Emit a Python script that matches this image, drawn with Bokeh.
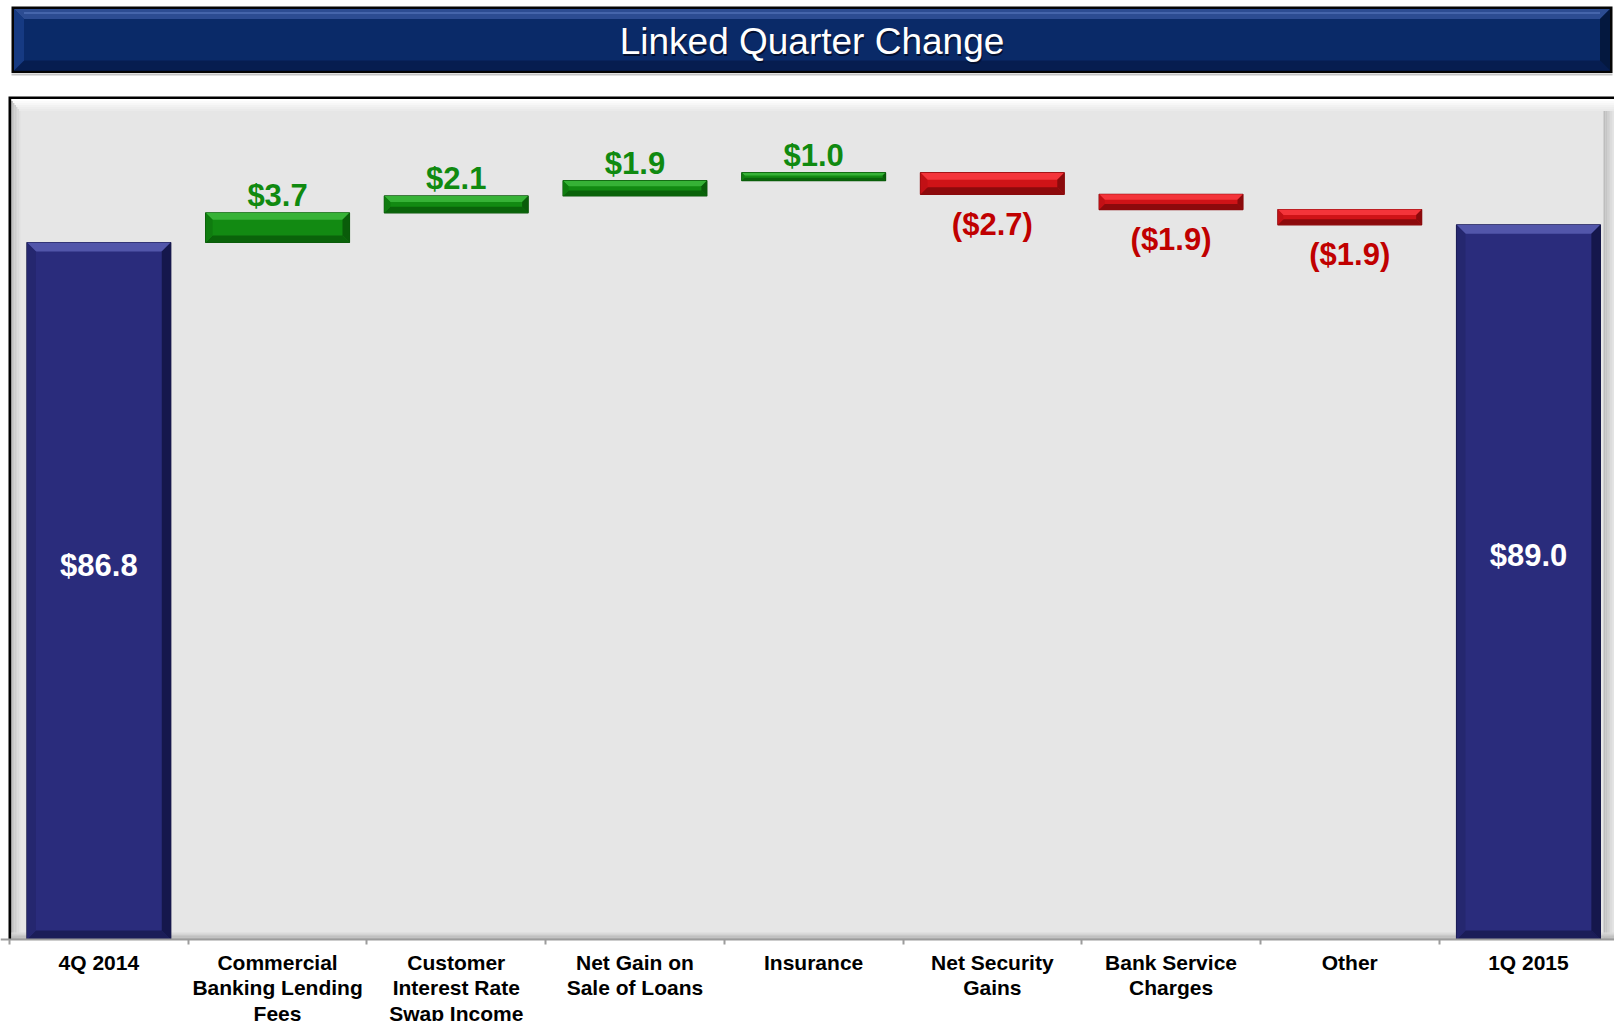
from bokeh.plotting import figure
from bokeh.models import Range1d, FixedTicker, ColumnDataSource
from bokeh.core.properties import value
from bokeh.embed import file_html
from bokeh.resources import INLINE

# ---------------- data ----------------
categories = [
    "4Q 2014",
    "Commercial\nBanking Lending\nFees",
    "Customer\nInterest Rate\nSwap Income",
    "Net Gain on\nSale of Loans",
    "Insurance",
    "Net Security\nGains",
    "Bank Service\nCharges",
    "Other",
    "1Q 2015",
]
amounts = [86.8, 3.7, 2.1, 1.9, 1.0, -2.7, -1.9, -1.9, 89.0]
kinds = ["total", "change", "change", "change", "change", "change", "change", "change", "total"]
value_labels = ["$86.8", "$3.7", "$2.1", "$1.9", "$1.0", "($2.7)", "($1.9)", "($1.9)", "$89.0"]
title_text = "Linked Quarter Change"

# ---------------- layout constants ----------------
W, H = 1614, 1021
PAGE = 0          # the page template puts the figure at the window's corner
PX_X = 178.7      # px per category
PX_Y = 8.03       # px per $ unit
X0_PAGE = 9.0     # page x of the first category boundary
Y0_PAGE = 939.0   # page y of value 0
BAR_W = 0.805
FONT = "Liberation Sans"


def page_x(px):
    return (px - X0_PAGE) / PX_X


def page_y(py):
    return (Y0_PAGE - py) / PX_Y


def dx(px):
    return px / PX_X


def dy(px):
    return px / PX_Y


p = figure(width=W, height=H, output_backend="svg", toolbar_location=None,
           x_range=Range1d(page_x(PAGE), page_x(PAGE + W)),
           y_range=Range1d(page_y(PAGE + H), page_y(PAGE)),
           min_border=0, y_axis_location=None)
p.outline_line_color = None
p.grid.visible = False
p.background_fill_color = "white"
p.border_fill_color = "white"


def rect(l, t, r, b, color):
    """page-pixel rectangle -> data quad"""
    p.quad(left=page_x(l), right=page_x(r), top=page_y(t), bottom=page_y(b),
           fill_color=color, line_color=None)


def hex_mix(c1, c2, f):
    a = [int(c1[i:i + 2], 16) for i in (1, 3, 5)]
    b = [int(c2[i:i + 2], 16) for i in (1, 3, 5)]
    return "#" + "".join("%02x" % round(a[k] + (b[k] - a[k]) * f) for k in range(3))


# ---------------- title bar ----------------
rect(11, 73, 1612, 75, "#c4c4c4")
rect(11, 6, 1612, 72.5, "#050505")
TL, TT, TR, TB = 13.5, 8.5, 1609.5, 70
rect(TL, TT, TR, TB, "#0a2a68")
bev = 10
p.patches(
    xs=[[page_x(v) for v in (TL, TR, TR - bev, TL + bev)],
        [page_x(v) for v in (TL, TR, TR - bev, TL + bev)],
        [page_x(v) for v in (TL, TL, TL + bev, TL + bev)],
        [page_x(v) for v in (TR, TR, TR - bev, TR - bev)]],
    ys=[[page_y(v) for v in (TT, TT, TT + bev, TT + bev)],
        [page_y(v) for v in (TB, TB, TB - bev, TB - bev)],
        [page_y(v) for v in (TT, TB, TB - bev, TT + bev)],
        [page_y(v) for v in (TT, TB, TB - bev, TT + bev)]],
    fill_color=["#2c4c92", "#061d50", "#163a82", "#04183f"], line_color=None)
rect(TL + bev, TT + 3, TR - bev, TT + 5, "#4565ab")
p.text(x=[page_x(812.5)], y=[page_y(42.5)], text=[title_text],
       text_font=value(FONT), text_font_size="37px", text_color="#041030",
       text_align="center", text_baseline="middle")
p.text(x=[page_x(811.5)], y=[page_y(41)], text=[title_text],
       text_font=value(FONT), text_font_size="37px", text_color="white",
       text_align="center", text_baseline="middle")

# ---------------- chart panel with bevel ----------------
rect(8, 96, 1640, 939, "#000000")
PL, PT, PR, PB = 11, 98.5, 1640, 939
rect(PL, PT, PR, PB, "#e6e6e6")
steps = 6
for i in range(steps):  # left bevel
    rect(PL + i * 1.5, PT, PL + (i + 1) * 1.5, PB, hex_mix("#c2c2c2", "#e6e6e6", i / steps))
for i in range(steps):  # right bevel
    rect(1603 + i * 1.8, PT, 1603 + (i + 1) * 1.8, PB, hex_mix("#bdbdbd", "#ececec", i / steps))
for i in range(steps):  # bottom bevel
    rect(PL, PB - 7 + i * 7 / steps, PR, PB - 7 + (i + 1) * 7 / steps,
         hex_mix("#dadada", "#a8a8a8", i / steps))
for i in range(steps):  # top bevel
    rect(PL + i * 1.5, PT + i * 2, PR, PT + (i + 1) * 2, hex_mix("#ffffff", "#e6e6e6", i / steps))

# ---------------- waterfall geometry ----------------
centers = [i + 0.5 for i in range(len(categories))]
bottoms, tops, styles = [], [], []
running = 0.0
for amt, kind in zip(amounts, kinds):
    if kind == "total":
        b, t = 0.0, amt
        running = amt
        styles.append("total")
    else:
        b, t = sorted((running, running + amt))
        running += amt
        styles.append("up" if amt > 0 else "down")
    bottoms.append(b)
    tops.append(t)

palette = {
    # main, top, bottom, left, right, outline
    "total": ("#2a2c7c", "#5256aa", "#1b1d58", "#25276f", "#15174c", "#141545"),
    "up": ("#128a12", "#36b236", "#0a630a", "#0f7c0f", "#0a5c0a", "#0a560a"),
    "down": ("#cf1317", "#f4343a", "#8c0a0c", "#c21015", "#8a0a0c", "#8a0a0c"),
}

faces = {"xs": [], "ys": [], "c": []}
for cx, b, t, st in zip(centers, bottoms, tops, styles):
    l, r = cx - BAR_W / 2, cx + BAR_W / 2
    main, ctop, cbot, cleft, cright, cline = palette[st]
    bw = 9 if st == "total" else 7
    hpx = (t - b) * PX_Y
    bwy = min(bw, hpx * 0.36)
    bx, by = dx(bwy if st != "total" else bw), dy(bwy)
    p.quad(left=[l], right=[r], top=[t], bottom=[b], fill_color=main,
           line_color=cline, line_width=1.2)
    faces["xs"] += [[l, r, r - bx, l + bx], [l, r, r - bx, l + bx],
                    [l, l, l + bx, l + bx], [r, r, r - bx, r - bx]]
    faces["ys"] += [[t, t, t - by, t - by], [b, b, b + by, b + by],
                    [b, t, t - by, b + by], [b, t, t - by, b + by]]
    faces["c"] += [ctop, cbot, cleft, cright]
p.patches(xs="xs", ys="ys", fill_color="c", line_color=None,
          source=ColumnDataSource(faces))

# ---------------- value labels ----------------
lx, ly, lt, lc = [], [], [], []
for cx, b, t, st, txt in zip(centers, bottoms, tops, styles, value_labels):
    lx.append(cx)
    lt.append(txt)
    if st == "total":
        ly.append(t * 0.537)
        lc.append("#ffffff")
    elif st == "up":
        ly.append(t + dy(17))
        lc.append("#108a10")
    else:
        ly.append(b - dy(30))
        lc.append("#c00000")
p.text(x="x", y="y", text="t", text_color="c",
       source=ColumnDataSource(dict(x=lx, y=ly, t=lt, c=lc)),
       text_font=value(FONT), text_font_style="bold", text_font_size="31px",
       text_align="center", text_baseline="middle")

# ---------------- x axis ----------------
ax = p.xaxis[0]
ax.fixed_location = 0
ax.ticker = FixedTicker(ticks=centers, minor_ticks=list(range(len(categories) + 1)))
ax.major_label_overrides = {c: lab for c, lab in zip(centers, categories)}
ax.axis_line_color = "#9c9c9c"
ax.axis_line_width = 2
ax.major_tick_line_color = None
ax.major_tick_in = 0
ax.major_tick_out = 0
ax.minor_tick_line_color = "#9c9c9c"
ax.minor_tick_line_width = 2
ax.minor_tick_in = 0
ax.minor_tick_out = 5
ax.major_label_standoff = 6
ax.major_label_text_font = FONT
ax.major_label_text_font_style = "bold"
ax.major_label_text_font_size = "21px"
ax.major_label_text_line_height = 1.13
ax.major_label_text_color = "#000000"

open("out.html", "w").write(file_html(p, INLINE))
